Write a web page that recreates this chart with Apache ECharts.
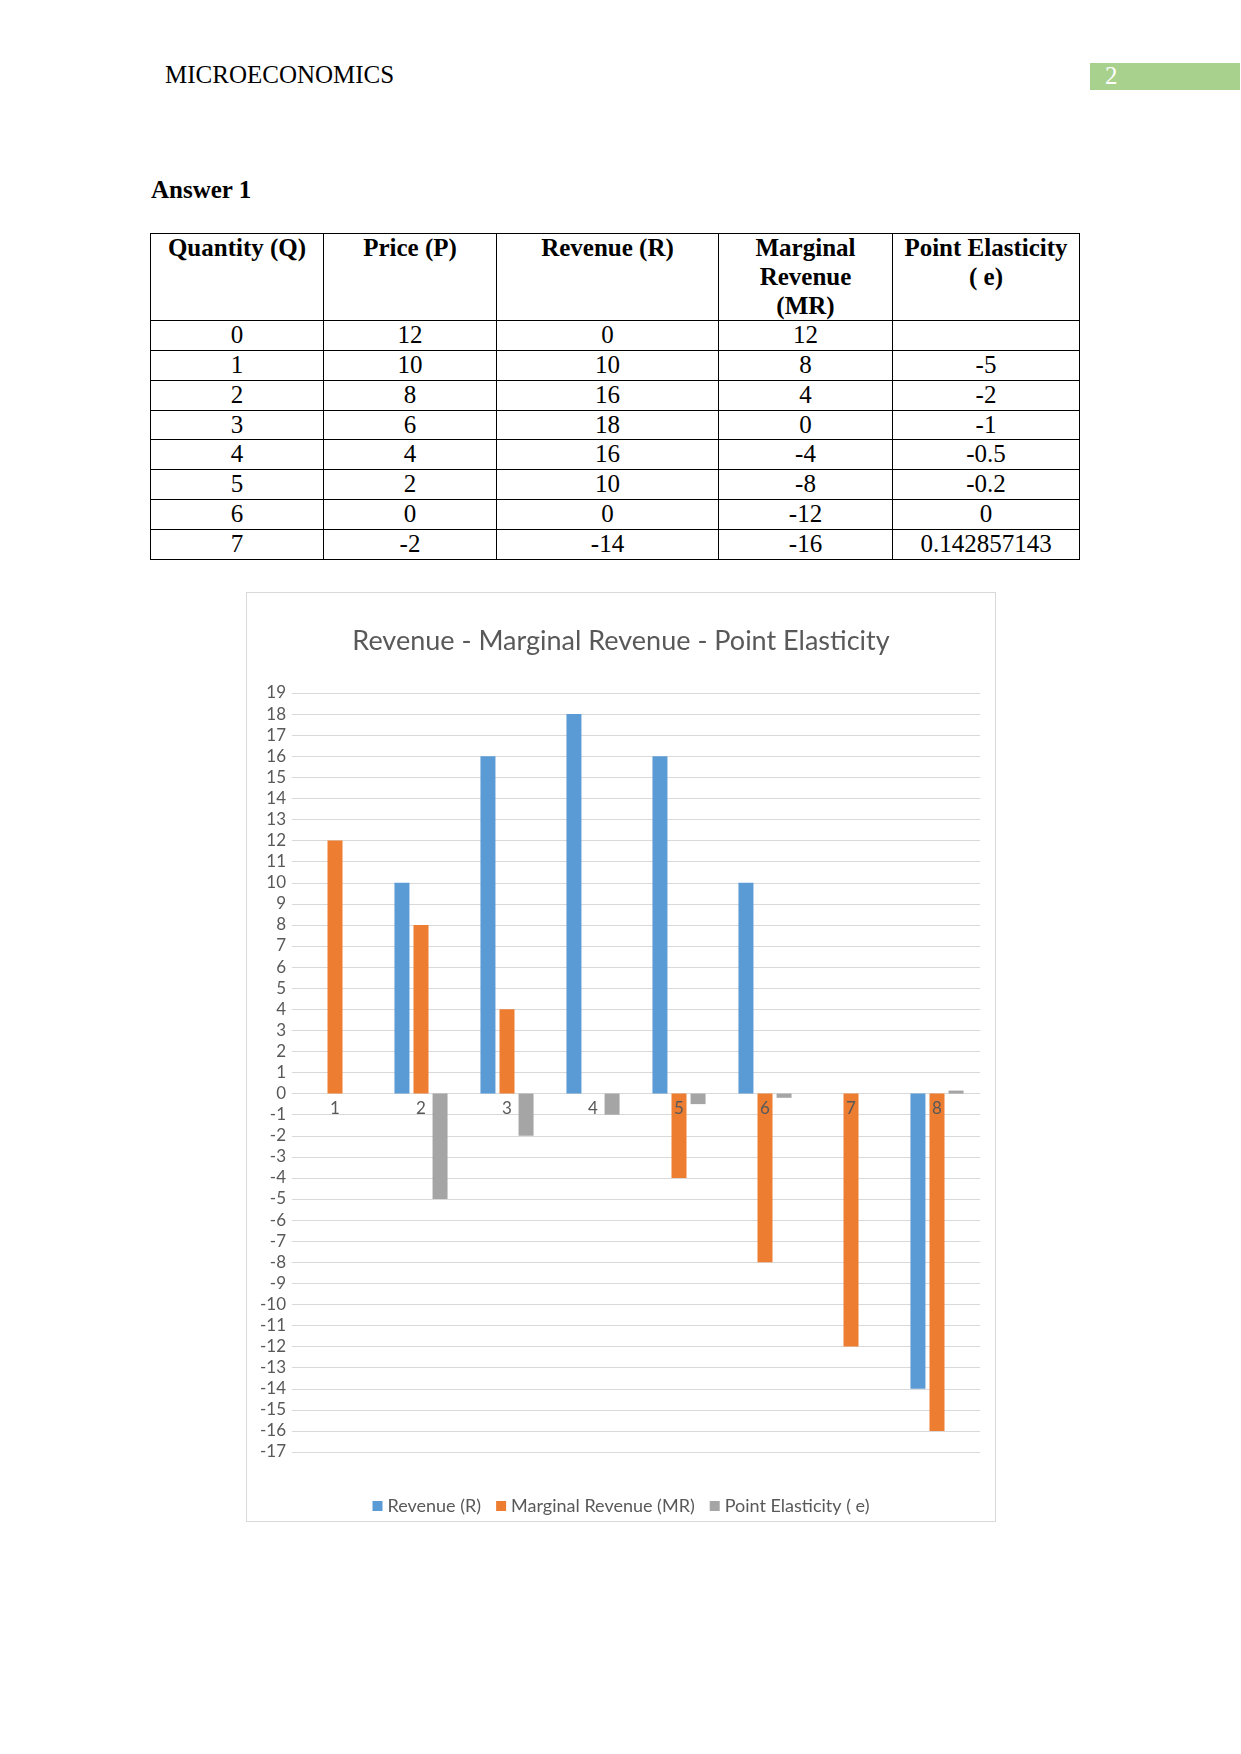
<!DOCTYPE html>
<html>
<head>
<meta charset="utf-8">
<script src="https://cdn.jsdelivr.net/npm/echarts@6/dist/echarts.min.js"></script>
<style>
  html, body { margin: 0; padding: 0; background: #fff; }
  body { width: 1241px; height: 1754px; position: relative; font-family: "Liberation Serif", "Times New Roman", serif; color: #000; }
  .hdr { position: absolute; left: 165px; top: 62px; font-size: 25px; line-height: 25px; }
  .pg { position: absolute; left: 1090px; top: 63px; width: 150px; height: 27px; background: #A9D18E; color: #fff; font-size: 25px; line-height: 25px; }
  .pg span { position: absolute; left: 15px; top: 0px; }
  .ans { position: absolute; left: 151px; top: 177px; font-size: 25px; line-height: 25px; font-weight: bold; }
  table { position: absolute; left: 150px; top: 233px; border-collapse: collapse; table-layout: fixed; width: 929px; font-size: 25px; line-height: 28.75px; }
  td, th { border: 1px solid #000; padding: 0; text-align: center; vertical-align: middle; }
  th { vertical-align: top; height: 86px; font-weight: bold; }
  td { height: 28.8px; }
  #chart { position: absolute; left: 246px; top: 592px; width: 748px; height: 928px; border: 1px solid #d9d9d9; }
</style>
</head>
<body>
<div class="hdr">MICROECONOMICS</div>
<div class="pg"><span>2</span></div>
<div class="ans">Answer 1</div>
<table id="tbl"></table>
<div id="chart"></div>
<script>
// Table data
const headers = ["Quantity (Q)", "Price (P)", "Revenue (R)", "Marginal Revenue (MR)", "Point Elasticity ( e)"];
const quantity = ["0", "1", "2", "3", "4", "5", "6", "7"];
const price = ["12", "10", "8", "6", "4", "2", "0", "-2"];
const revenueText = ["0", "10", "16", "18", "16", "10", "0", "-14"];
const mrText = ["12", "8", "4", "0", "-4", "-8", "-12", "-16"];
const elasticityText = ["", "-5", "-2", "-1", "-0.5", "-0.2", "0", "0.142857143"];

// Chart data
const categories = ["1", "2", "3", "4", "5", "6", "7", "8"];
const revenue = [0, 10, 16, 18, 16, 10, 0, -14];
const marginalRevenue = [12, 8, 4, 0, -4, -8, -12, -16];
const pointElasticity = [null, -5, -2, -1, -0.5, -0.2, 0, 0.142857143];
const categoryLabelAnchor = [0, 0, 0, 0, 0, 0, 0, 0];
const seriesNames = ["Revenue (R)", "Marginal Revenue (MR)", "Point Elasticity ( e)"];
const chartTitle = "Revenue - Marginal Revenue - Point Elasticity";

// Build table
const colW = [173, 173, 222, 174, 187];
const tbl = document.getElementById('tbl');
let html = '<colgroup>' + colW.map(w => '<col style="width:' + w + 'px">').join('') + '</colgroup>';
const hdrHtml = ["Quantity (Q)", "Price (P)", "Revenue (R)", "Marginal<br>Revenue<br>(MR)", "Point Elasticity<br>( e)"];
html += '<tr>' + hdrHtml.map(h => '<th>' + h + '</th>').join('') + '</tr>';
for (let i = 0; i < quantity.length; i++) {
  html += '<tr><td>' + quantity[i] + '</td><td>' + price[i] + '</td><td>' + revenueText[i] + '</td><td>' + mrText[i] + '</td><td>' + elasticityText[i] + '</td></tr>';
}
tbl.innerHTML = html;

// Chart
const chart = echarts.init(document.getElementById('chart'));
const font = 'Lato';
const txt = '#595959';
chart.setOption({
  animation: false,
  color: ['#5B9BD5', '#ED7D31', '#A5A5A5', '#595959'],
  title: {
    text: chartTitle, left: 'center', top: 30,
    textStyle: { fontFamily: font, fontSize: 27, fontWeight: 'normal', color: txt }
  },
  legend: {
    data: seriesNames, bottom: 1, left: 'center', icon: 'rect',
    itemWidth: 10, itemHeight: 10, itemGap: 15,
    textStyle: { fontFamily: font, fontSize: 18, color: txt }
  },
  grid: { left: 45, right: 15, top: 100, bottom: 69, containLabel: false },
  xAxis: {
    type: 'category', data: categories,
    axisLine: { show: true, onZero: true, lineStyle: { color: '#d9d9d9', width: 1 } },
    axisTick: { show: false },
    axisLabel: { show: false }
  },
  yAxis: {
    type: 'value', min: -17, max: 19, interval: 1,
    axisLine: { show: false }, axisTick: { show: false },
    splitLine: { lineStyle: { color: '#d9d9d9', width: 1 } },
    axisLabel: { fontFamily: font, fontSize: 17, color: txt, margin: 6 }
  },
  series: [
    { name: seriesNames[0], type: 'bar', data: revenue, barWidth: 15, barGap: '27%' },
    { name: seriesNames[1], type: 'bar', data: marginalRevenue, barWidth: 15, barGap: '27%' },
    { name: seriesNames[2], type: 'bar', data: pointElasticity, barWidth: 15, barGap: '27%' },
    {
      name: 'categoryLabels', type: 'custom', z: 10, silent: true, tooltip: { show: false },
      data: categories.map((c, i) => [c, categoryLabelAnchor[i]]),
      renderItem: function (params, api) {
        const p = api.coord([categories[params.dataIndex], api.value(1)]);
        return {
          type: 'text', x: p[0], y: p[1] + 6,
          style: { text: categories[params.dataIndex], fill: txt, font: '17px Lato', align: 'center', verticalAlign: 'top' }
        };
      }
    }
  ]
});
</script>
</body>
</html>
